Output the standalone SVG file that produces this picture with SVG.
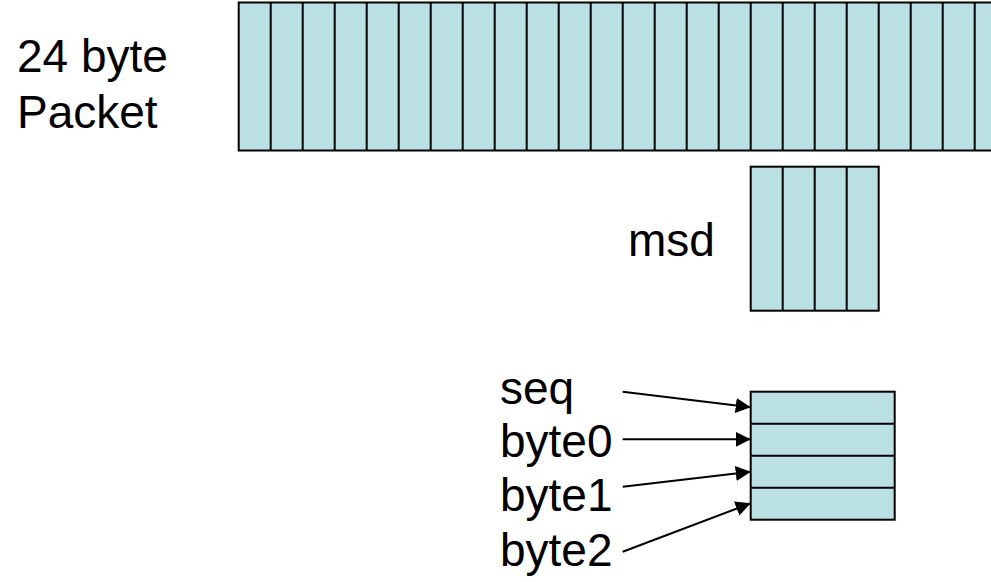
<svg xmlns="http://www.w3.org/2000/svg" width="991" height="582" viewBox="0 0 991 582">
<style>
.cell{fill:#bbe0e3;stroke:#000;stroke-width:2}
.div{stroke:#000;stroke-width:2;fill:none}
.lbl{font-family:"Liberation Sans",Arial,sans-serif;font-size:46px;fill:#000}
.con{stroke:#000;stroke-width:2;fill:none}
</style>
<defs>
<marker id="ah" viewBox="0 0 10 10" refX="10" refY="5" markerWidth="7.5" markerHeight="7.5" markerUnits="strokeWidth" orient="auto">
<path d="M0,0 L10,5 L0,10 Z" fill="#000"/>
</marker>
</defs>
<rect width="991" height="582" fill="#fff"/>
<g id="packet">
<rect class="cell" x="238.7" y="2.5" width="768" height="148"/>
<path class="div" d="M270.7,2.5V150.5M302.7,2.5V150.5M334.7,2.5V150.5M366.7,2.5V150.5M398.7,2.5V150.5M430.7,2.5V150.5M462.7,2.5V150.5M494.7,2.5V150.5M526.7,2.5V150.5M558.7,2.5V150.5M590.7,2.5V150.5M622.7,2.5V150.5M654.7,2.5V150.5M686.7,2.5V150.5M718.7,2.5V150.5M750.7,2.5V150.5M782.7,2.5V150.5M814.7,2.5V150.5M846.7,2.5V150.5M878.7,2.5V150.5M910.7,2.5V150.5M942.7,2.5V150.5M974.7,2.5V150.5"/>
</g>
<g id="packet-label">
<text class="lbl" x="17" y="72">24 byte</text>
<text class="lbl" x="17" y="128">Packet</text>
</g>
<g id="msd">
<rect class="cell" x="750.7" y="166.7" width="128" height="144"/>
<path class="div" d="M782.7,166.7V310.7M814.7,166.7V310.7M846.7,166.7V310.7"/>
<text class="lbl" x="628" y="256">msd</text>
</g>
<g id="struct">
<rect class="cell" x="750.7" y="391.7" width="144" height="128"/>
<path class="div" d="M750.7,423.7H894.7M750.7,455.7H894.7M750.7,487.7H894.7"/>
</g>
<g id="labels">
<text class="lbl" x="500" y="404">seq</text>
<text class="lbl" x="500" y="457">byte0</text>
<text class="lbl" x="500" y="511">byte1</text>
<text class="lbl" x="500" y="566">byte2</text>
</g>
<g id="connectors">
<line class="con" x1="622.7" y1="391.7" x2="750.7" y2="407.3" marker-end="url(#ah)"/>
<line class="con" x1="622.7" y1="439.3" x2="750.7" y2="439.3" marker-end="url(#ah)"/>
<line class="con" x1="622.7" y1="486.7" x2="750.7" y2="471.7" marker-end="url(#ah)"/>
<line class="con" x1="622.7" y1="551.7" x2="750.7" y2="503.3" marker-end="url(#ah)"/>
</g>
</svg>
